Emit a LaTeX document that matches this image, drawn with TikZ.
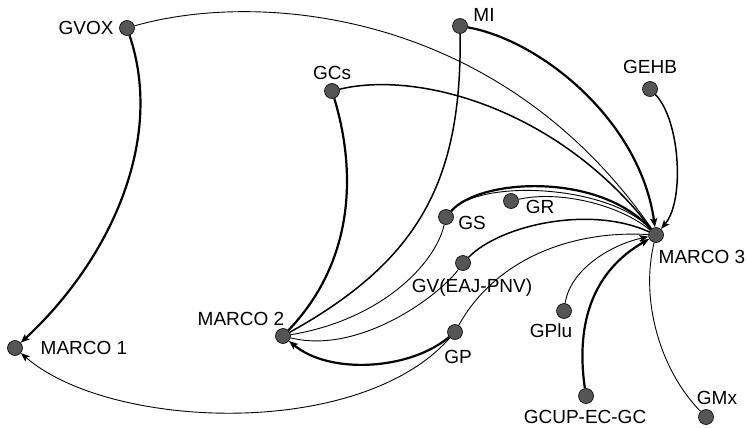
\documentclass[tikz,border=0pt]{standalone}
\usepackage{fontspec}
\setmainfont{Liberation Sans}
\usetikzlibrary{arrows.meta}
\definecolor{dotgray}{RGB}{85,85,85}
\tikzset{
  dot/.style={circle, fill=dotgray, draw=black, line width=0.6pt, minimum size=15pt, inner sep=0pt},
  lbl/.style={anchor=base, inner sep=0pt, font=\fontsize{19}{22}\selectfont},
  thinedge/.style={line width=0.9pt},
  midedge/.style={line width=1.5pt},
  thickedge/.style={line width=2.2pt},
  tip/.style={-{Stealth[length=9pt,width=7pt,inset=2pt]}}
}
\begin{document}
\begin{tikzpicture}[x=1pt,y=-1pt]
\useasboundingbox (0,0) rectangle (747,428);
% nodes
\node[dot] (GVOX) at (127,28) {};
\node[dot] (MI) at (460,26) {};
\node[dot] (GCs) at (332,91) {};
\node[dot] (GEHB) at (650,89) {};
\node[dot] (GR) at (511,201) {};
\node[dot] (GS) at (446,217) {};
\node[dot] (GV) at (463,263) {};
\node[dot] (GP) at (455,332) {};
\node[dot] (GPlu) at (564,311) {};
\node[dot] (GCUP) at (586,396) {};
\node[dot] (GMx) at (706,417) {};
\node[dot] (M1) at (15,348) {};
\node[dot] (M2) at (283,336) {};
\node[dot] (M3) at (656,235) {};
% labels
\node[lbl] (lGVOX) at (86,34.5) {GVOX};
\node[lbl] (lMI) at (484,21.7) {MI};
\node[lbl] (lGCs) at (332,79) {GCs};
\node[lbl] (lGEHB) at (650,74) {GEHB};
\node[lbl] (lGR) at (540,213) {GR};
\node[lbl] (lGS) at (472,229) {GS};
\node[lbl] (lGV) at (472,292) {GV(EAJ-PNV)};
\node[lbl] (lGPlu) at (551,337) {GPlu};
\node[lbl] (lGP) at (458,363) {GP};
\node[lbl] (lGCUP) at (585,423) {GCUP-EC-GC};
\node[lbl] (lGMx) at (717,404) {GMx};
\node[lbl] (lM3) at (702,263) {MARCO 3};
\node[lbl] (lM1) at (84,354) {MARCO 1};
\node[lbl] (lM2) at (241,325) {MARCO 2};
% edges
\draw[thickedge,tip] (GVOX) .. controls (165,140) and (110,260) .. (M1);
\draw[thinedge] (GVOX) .. controls (260,-10) and (500,10) .. (M3);
\draw[thickedge,tip] (MI) .. controls (540,40) and (640,120) .. (M3);
\draw[midedge] (MI) .. controls (462,180) and (420,260) .. (M2);
\draw[midedge] (GCs) .. controls (420,70) and (560,110) .. (M3);
\draw[thickedge] (GCs) .. controls (350,150) and (365,250) .. (M2);
\draw[midedge,tip] (GEHB) .. controls (680,120) and (685,200) .. (M3);
\draw[thinedge] (GS) .. controls (435,265) and (380,320) .. (M2);
\draw[thickedge] (GS) .. controls (480,178) and (600,172) .. (M3);
\draw[thinedge] (GS) .. controls (480,178) and (610,185) .. (M3);
\draw[thinedge] (GR) .. controls (560,190) and (620,205) .. (M3);
\draw[thinedge] (GV) .. controls (440,295) and (360,355) .. (M2);
\draw[midedge] (GV) .. controls (500,225) and (590,205) .. (M3);
\draw[thickedge,tip] (GP) .. controls (410,370) and (330,375) .. (M2);
\draw[thinedge,tip] (GP) .. controls (360,440) and (110,430) .. (M1);
\draw[thinedge] (GP) .. controls (495,260) and (570,230) .. (M3);
\draw[thinedge,tip] (GPlu) .. controls (570,270) and (610,245) .. (M3);
\draw[thickedge,tip] (GCUP) .. controls (575,320) and (595,270) .. (M3);
\draw[thinedge] (M3) .. controls (640,300) and (660,370) .. (GMx);
\end{tikzpicture}
\end{document}
